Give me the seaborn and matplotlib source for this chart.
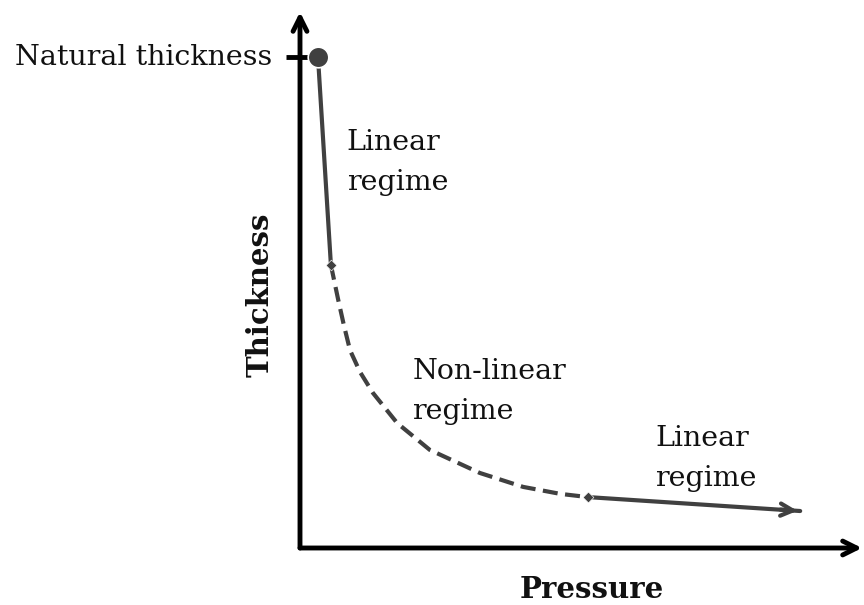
import numpy as np
import pandas as pd
import matplotlib.pyplot as plt
import seaborn as sns

sns.set_style("white")
plt.rcParams['font.family'] = ['DejaVu Serif']

# Dati (unità arbitrarie, 0-10)
natural_p = [0.32]
natural_t = [9.16]

lin1_p = [0.32, 0.55]
lin1_t = [9.16, 5.28]

nonlin_p = [0.55, 0.68, 0.78, 0.89, 1.07, 1.30, 1.73, 2.31, 3.20, 3.97, 4.63, 5.12]
nonlin_t = [5.28, 4.63, 4.16, 3.69, 3.28, 2.89, 2.33, 1.83, 1.40, 1.14, 1.01, 0.95]

lin2_p = [5.12, 8.90]
lin2_t = [0.95, 0.69]

knee_p = [0.55, 5.12]
knee_t = [5.28, 0.95]

col = '#404040'
txt = '#111111'

fig = plt.figure(figsize=(8.64, 6.05), dpi=100)
ax = fig.add_axes([300 / 864, 57 / 605, 562 / 864, 536 / 605])
ax.set_xlim(0, 10)
ax.set_ylim(0, 10)

sns.lineplot(x=lin1_p, y=lin1_t, color=col, linewidth=3, ax=ax, sort=False)
sns.lineplot(x=nonlin_p, y=nonlin_t, color=col, linewidth=3, ax=ax, sort=False,
             linestyle=(0, (3.6, 1.8)))
sns.lineplot(x=lin2_p, y=lin2_t, color=col, linewidth=3, ax=ax, sort=False)
sns.scatterplot(x=knee_p, y=knee_t, color=col, marker='D', s=30, ax=ax, zorder=5)
sns.scatterplot(x=natural_p, y=natural_t, color=col, s=220, ax=ax, zorder=6,
                clip_on=False)

# Freccia alla fine del tratto lineare
ax.annotate('', xy=(lin2_p[1], lin2_t[1]), xytext=(lin2_p[1] - 0.4, lin2_t[1] + 0.03),
            arrowprops=dict(arrowstyle='->', color=col, lw=3, mutation_scale=22))

# Assi con frecce
ax.annotate('', xy=(0, 1.0), xytext=(0, 0), xycoords='axes fraction',
            arrowprops=dict(arrowstyle='->', color='black', lw=3.5, mutation_scale=25,
                            shrinkA=0, shrinkB=0))
ax.annotate('', xy=(1.0, 0), xytext=(0, 0), xycoords='axes fraction',
            arrowprops=dict(arrowstyle='->', color='black', lw=3.5, mutation_scale=25,
                            shrinkA=0, shrinkB=0))
for s in ax.spines.values():
    s.set_visible(False)
ax.set_xticks([])
ax.set_yticks([])

# Tacca per lo spessore naturale
ax.plot([-0.25, 0.3], [natural_t[0], natural_t[0]], color='black', lw=3.5,
        clip_on=False, solid_capstyle='butt')
ax.text(-0.5, natural_t[0], 'Natural thickness', ha='right', va='center',
        fontsize=20.5, color=txt)

ax.text(0.83, 7.82, 'Linear\nregime', ha='left', va='top', fontsize=20.5,
        color=txt, linespacing=1.65)
ax.text(2.0, 3.55, 'Non-linear\nregime', ha='left', va='top', fontsize=20.5,
        color=txt, linespacing=1.65)
ax.text(6.32, 2.3, 'Linear\nregime', ha='left', va='top', fontsize=20.5,
        color=txt, linespacing=1.65)

ax.set_xlabel('Pressure', fontsize=21, fontweight='bold', color=txt)
ax.set_ylabel('Thickness', fontsize=21, fontweight='bold', color=txt)
ax.xaxis.set_label_coords(0.52, -0.05)
ax.yaxis.set_label_coords(-0.045, 0.472)

plt.savefig('out.png', dpi=100)
